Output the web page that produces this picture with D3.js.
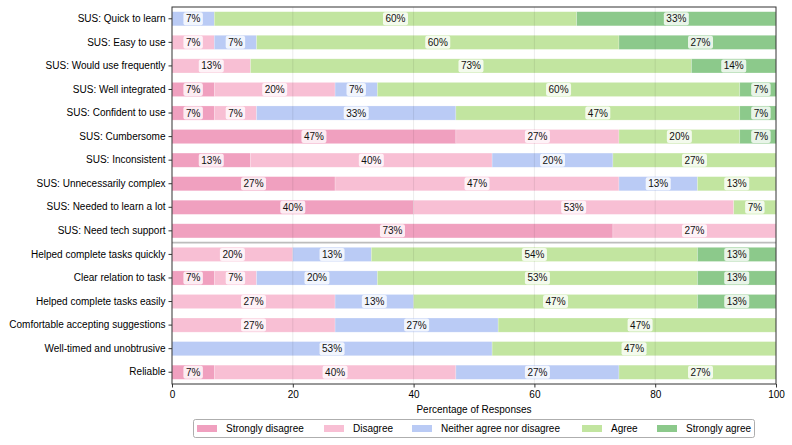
<!DOCTYPE html>
<html>
<head>
<meta charset="utf-8">
<script src="https://cdn.jsdelivr.net/npm/d3@7"></script>
<style>
  body { margin: 0; background: #fff; }
  text { font-family: "Liberation Sans", Arial, Helvetica, sans-serif; }
</style>
</head>
<body>
<script>
(function() {

  var categories = [
    "SUS: Quick to learn", "SUS: Easy to use", "SUS: Would use frequently", "SUS: Well integrated",
    "SUS: Confident to use", "SUS: Cumbersome", "SUS: Inconsistent", "SUS: Unnecessarily complex",
    "SUS: Needed to learn a lot", "SUS: Need tech support", "Helped complete tasks quickly",
    "Clear relation to task", "Helped complete tasks easily", "Comfortable accepting suggestions",
    "Well-timed and unobtrusive", "Reliable"
  ];
  var responses = ["Strongly disagree", "Disagree", "Neither agree nor disagree", "Agree", "Strongly agree"];
  var stronglyDisagree = [0, 0, 0, 7, 7, 47, 13, 27, 40, 73, 0, 7, 0, 0, 0, 7];
  var disagree         = [0, 7, 13, 20, 7, 27, 40, 47, 53, 27, 20, 7, 27, 27, 0, 40];
  var neutral          = [7, 7, 0, 7, 33, 0, 20, 13, 0, 0, 13, 20, 13, 27, 53, 27];
  var agree            = [60, 60, 73, 60, 47, 20, 27, 13, 7, 0, 54, 53, 47, 47, 47, 27];
  var stronglyAgree    = [33, 27, 14, 7, 7, 7, 0, 0, 0, 0, 13, 13, 13, 0, 0, 0];
  var xTicks = [0, 20, 40, 60, 80, 100];
  var colors = ["#f0a0bf", "#f8bfd4", "#bacbf5", "#c2e5a0", "#8cc98b"];
  var series = [stronglyDisagree, disagree, neutral, agree, stronglyAgree];

  var margin = {left: 172, top: 7, right: 16, bottom: 61};
  var width = 792, height = 445;
  var w = width - margin.left - margin.right;
  var h = height - margin.top - margin.bottom;

  var svg = d3.select("body").append("svg")
      .attr("width", width)
      .attr("height", height);

  var g = svg.append("g").attr("transform", "translate(" + margin.left + "," + margin.top + ")");

  var x = d3.scaleLinear().domain([0, 100]).range([0, w]);
  var y = d3.scaleBand().domain(categories).range([0, h]).paddingInner(0.4).paddingOuter(0.2);

  svg.append("defs").append("clipPath").attr("id", "plotclip")
    .append("rect").attr("width", w).attr("height", h);

  // stacked segments
  var segs = [];
  categories.forEach(function(c, i) {
    var start = 0;
    series.forEach(function(s, k) {
      var v = s[i];
      if (v > 0) segs.push({cat: c, k: k, x0: start, x1: start + v, v: v});
      start += v;
    });
  });

  var plot = g.append("g").attr("clip-path", "url(#plotclip)");

  plot.selectAll("rect.seg")
    .data(segs)
    .enter().append("rect")
      .attr("class", "seg")
      .attr("x", function(d) { return x(d.x0); })
      .attr("y", function(d) { return y(d.cat); })
      .attr("width", function(d) { return x(d.x1) - x(d.x0); })
      .attr("height", y.bandwidth())
      .attr("fill", function(d) { return colors[d.k]; })
      .attr("stroke", "rgba(255,255,255,0.35)")
      .attr("stroke-width", 0.6);

  // grid
  g.selectAll("line.grid")
    .data(xTicks.slice(1, -1))
    .enter().append("line")
      .attr("x1", function(d) { return x(d); })
      .attr("x2", function(d) { return x(d); })
      .attr("y1", 0).attr("y2", h)
      .attr("stroke", "rgba(0,0,0,0.1)")
      .attr("stroke-width", 0.8);

  // separator between SUS items and the rest
  var sepY = (y(categories[9]) + y.bandwidth() + y(categories[10])) / 2;
  g.append("line")
    .attr("x1", 0).attr("x2", w)
    .attr("y1", sepY).attr("y2", sepY)
    .attr("stroke", "#bdbdbd")
    .attr("stroke-width", 1.6);

  // value labels
  var lab = g.selectAll("g.lab")
    .data(segs)
    .enter().append("g")
      .attr("class", "lab")
      .attr("transform", function(d) {
        return "translate(" + x((d.x0 + d.x1) / 2) + "," + (y(d.cat) + y.bandwidth() / 2) + ")";
      });

  lab.append("rect").attr("class", "bg");
  lab.append("text")
    .attr("text-anchor", "middle")
    .attr("dy", "0.35em")
    .attr("font-size", 10)
    .attr("fill", "#111")
    .text(function(d) { return d.v + "%"; });

  lab.each(function() {
    var t = d3.select(this).select("text").node();
    var tw = t.getComputedTextLength();
    d3.select(this).select("rect")
      .attr("x", -tw / 2 - 2.5)
      .attr("y", -6.5)
      .attr("width", tw + 5)
      .attr("height", 13)
      .attr("rx", 2)
      .attr("fill", "rgba(255,255,255,0.8)");
  });

  // axes
  var xAxis = g.append("g")
    .attr("transform", "translate(0," + h + ")")
    .call(d3.axisBottom(x).tickValues(xTicks).tickSize(3.5).tickPadding(3));
  var yAxis = g.append("g")
    .call(d3.axisLeft(y).tickSize(3.5).tickPadding(3));

  [xAxis, yAxis].forEach(function(a) {
    a.select(".domain").remove();
    a.selectAll("text").attr("font-size", 10).attr("fill", "#000")
      .style("font-family", "'Liberation Sans', Arial, sans-serif");
    a.selectAll("line").attr("stroke", "#333");
  });

  // frame
  g.append("rect")
    .attr("width", w).attr("height", h)
    .attr("fill", "none")
    .attr("stroke", "#333")
    .attr("stroke-width", 1);

  g.append("text")
    .attr("x", w / 2)
    .attr("y", h + 25)
    .attr("dy", "0.35em")
    .attr("text-anchor", "middle")
    .attr("font-size", 10)
    .text("Percentage of Responses");

  // legend
  var legendX = [197, 324, 412, 582, 657];
  var legend = svg.append("g");
  legend.append("rect")
    .attr("x", 193.5).attr("y", 419.5)
    .attr("width", 561).attr("height", 18)
    .attr("rx", 2)
    .attr("fill", "#fff")
    .attr("stroke", "#999")
    .attr("stroke-width", 0.8);

  var items = legend.selectAll("g.item")
    .data(responses)
    .enter().append("g")
      .attr("class", "item")
      .attr("transform", function(d, i) { return "translate(" + legendX[i] + ",428.5)"; });

  items.append("rect")
    .attr("x", 0).attr("y", -3.5)
    .attr("width", 20).attr("height", 7)
    .attr("fill", function(d, i) { return colors[i]; });

  items.append("text")
    .attr("x", 29)
    .attr("dy", "0.35em")
    .attr("font-size", 10)
    .text(function(d) { return d; });

}());
</script>
</body>
</html>
